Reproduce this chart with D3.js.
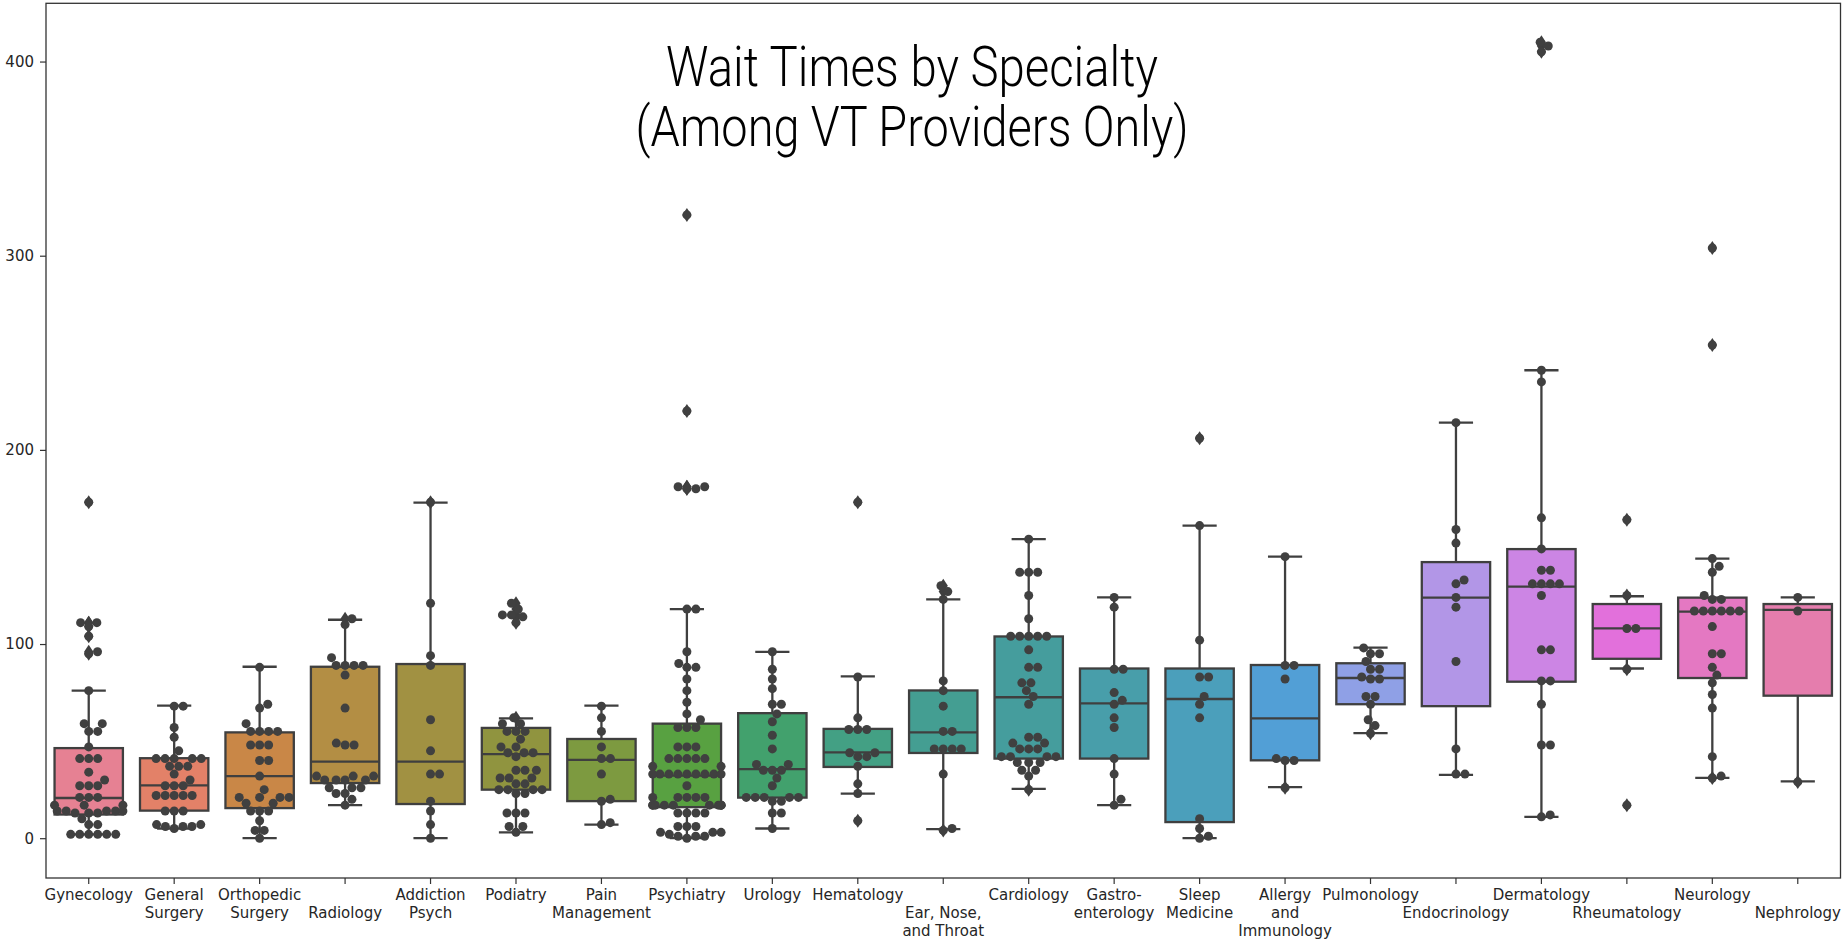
<!DOCTYPE html>
<html><head><meta charset="utf-8">
<script src="https://cdn.jsdelivr.net/npm/d3@7"></script>
<style>body{margin:0;background:#fff;overflow:hidden}</style>
</head><body><svg id="chart" width="1845" height="947"></svg>
<script>
// ---------------- DATA ----------------
const categories = ["Gynecology","General Surgery","Orthopedic Surgery","Radiology","Addiction Psych","Podiatry","Pain Management","Psychiatry","Urology","Hematology","Ear, Nose, and Throat","Cardiology","Gastroenterology","Sleep Medicine","Allergy and Immunology","Pulmonology","Endocrinology","Dermatology","Rheumatology","Neurology","Nephrology"];
const tickLabelLines = [["Gynecology"],["General","Surgery"],["Orthopedic","Surgery"],["","Radiology"],["Addiction","Psych"],["Podiatry"],["Pain","Management"],["Psychiatry"],["Urology"],["Hematology"],["","Ear, Nose,","and Throat"],["Cardiology"],["Gastro-","enterology"],["Sleep","Medicine"],["Allergy","and","Immunology"],["Pulmonology"],["","Endocrinology"],["Dermatology"],["","Rheumatology"],["Neurology"],["","Nephrology"]];
const yTicks = [0,100,200,300,400];
const titleLines = ["Wait Times by Specialty","(Among VT Providers Only)"];

// wait times (days) per specialty
const gynecology = [2,2,2,2,2,2,7,7,10,13,13,14,14,14,14,13,14,17,17,17,21,21,21,27,27,27,30,34,41,41,41,47,55,55,59,59,76,95,96,104,109,111,111,173];
const generalSurgery = [5,6,6,6,7,7,14,14,14,22,22,22,22,22,27,27,27,30,33,37,37,37,41,41,41,41,41,45,52,57,68,68];
const orthopedicSurgery = [0,4,4,9,14,14,14,18,18,21,21,21,21,25,32,40,40,48,48,48,55,55,55,55,59,67,69,88];
const radiology = [17,20,23,23,26,26,26,30,30,30,30,32,32,32,48,48,49,67,84,89,89,89,89,93,110,113];
const addictionPsych = [0,7,14,19,33,33,45,61,89,94,121,173];
const podiatry = [3,6,6,13,13,13,23,23,25,25,25,25,28,28,31,31,31,35,35,35,42,44,44,44,47,47,51,55,55,55,59,59,62,111,114,115,115,118,121];
const painManagement = [7,8,19,20,33,41,41,47,55,62,68];
const psychiatry = [0,1,1,1,2,3,3,3,6,6,6,13,13,13,13,17,17,17,17,17,17,17,17,17,17,21,21,21,21,21,27,33,33,33,33,33,33,33,33,33,37,37,41,41,41,41,41,47,47,47,57,57,57,61,64,70,76,82,88,88,90,96,118,118,180,180,181,181,220,321];
const urology = [5,13,13,19,19,21,21,21,21,21,27,31,35,35,35,38,38,46,53,60,64,69,69,77,82,87,96];
const hematology = [9,23,28,37,42,42,44,44,56,56,56,62,83,173];
const earNoseThroat = [4,5,33,46,46,46,46,55,55,68,76,81,123,127,130];
const cardiology = [25,32,35,35,39,39,39,42,42,42,42,46,46,46,49,49,52,52,69,73,76,80,80,88,88,97,104,104,104,104,104,113,125,137,137,137,154];
const gastroenterology = [17,20,33,41,57,62,69,71,75,87,87,119,124];
const sleepMedicine = [0,1,5,10,62,69,73,83,83,102,161,206];
const allergyImmunology = [26,40,40,41,82,89,89,145];
const pulmonology = [54,58,61,69,73,73,82,82,83,87,87,91,95,95,98];
const endocrinology = [33,33,46,91,119,124,131,133,152,159,214];
const dermatology = [11,12,48,48,69,81,81,97,97,125,131,131,131,131,138,138,149,165,235,241,405,408,410];
const rheumatology = [17,87,108,108,125,164];
const neurology = [31,32,42,67,74,80,84,88,95,95,109,117,117,117,117,117,117,123,123,125,137,140,144,254,304];
const nephrology = [29,117,124];

// box statistics
const q1s = [12.2,14.2,15.5,28.4,17.6,25,19.1,16,20.9,36.7,43.9,41,41,8.3,40.1,69,68,80.6,92.4,82.5,73.4];
const medians = [20.7,27.2,32,39.4,39.4,43.3,40.3,32.2,35.6,44.2,54.5,72.6,69.4,71.7,61.7,82.5,123.9,129.6,108.1,116.7,117.6];
const q3s = [46.4,41.2,54.5,88.3,89.7,56.8,51.1,59,64.4,56.3,76.1,103.9,87.4,87.4,89.2,90.1,142.2,148.9,120.6,123.9,120.6];
const whiskerLows = [2,5,0,17,0,3,7,0,5,23,4.7,25.4,17,0,26.3,54.1,32.6,11,87.4,31.1,29.3];
const whiskerHighs = [76,68.3,88.3,112.5,172.8,61.7,68.3,118,96,83.3,123,154,124,161,145,98.2,214,241,124.6,144,124];

const seriesValues = [gynecology,generalSurgery,orthopedicSurgery,radiology,addictionPsych,podiatry,painManagement,psychiatry,urology,hematology,earNoseThroat,cardiology,gastroenterology,sleepMedicine,allergyImmunology,pulmonology,endocrinology,dermatology,rheumatology,neurology,nephrology];

// ---------------- HUSL palette (seaborn husl_palette) ----------------
const M = [[3.240969941904521,-1.537383177570093,-0.498610760293],[-0.96924363628087,1.87596750150772,0.041555057407175],[0.055630079696993,-0.20397695888897,1.056971514242878]];
const refU = 0.19783000664283, refV = 0.46831999493879, kappa = 903.2962962, epsilon = 0.0088564516;
function bounds(L){const res=[];const s1=Math.pow(L+16,3)/1560896;const s2=s1>epsilon?s1:L/kappa;
  for(let c=0;c<3;c++){const [m1,m2,m3]=M[c];for(let t=0;t<2;t++){const top1=(284517*m1-94839*m3)*s2;const top2=(838422*m3+769860*m2+731718*m1)*L*s2-769860*t*L;const bot=(632260*m3-126452*m2)*s2+126452*t;res.push([top1/bot,top2/bot]);}}return res;}
function maxChroma(L,H){const hr=H/360*Math.PI*2;let mn=Infinity;for(const [sl,ic] of bounds(L)){const len=ic/(Math.sin(hr)-sl*Math.cos(hr));if(len>=0)mn=Math.min(mn,len);}return mn;}
function husl2rgb(H,S,L){const C=maxChroma(L,H)/100*S;const hr=H/360*Math.PI*2;const U=Math.cos(hr)*C,V=Math.sin(hr)*C;
  const vu=U/(13*L)+refU,vv=V/(13*L)+refV;const Y=L<=8?L/kappa:Math.pow((L+16)/116,3);const X=-(9*Y*vu)/((vu-4)*vv-vu*vv);const Z=(9*Y-15*vv*Y-vv*X)/(3*vv);
  return M.map(r=>{let c=r[0]*X+r[1]*Y+r[2]*Z;c=c<=0.0031308?12.92*c:1.055*Math.pow(c,1/2.4)-0.055;return Math.max(0,Math.min(1,c));});}
const nCat = categories.length;
const palette = d3.range(nCat).map(i=>{let h=(i/nCat+0.01)%1*359;const rgb=husl2rgb(h,0.9*99,0.65*99);
  const c=d3.hsl(d3.rgb(rgb[0]*255,rgb[1]*255,rgb[2]*255));c.s*=0.75;return c.formatHex();});
const minLight = d3.min(palette,c=>d3.hsl(c).l);
const lum = Math.round(minLight*0.6*255);
const gray = d3.rgb(lum,lum,lum).formatHex();

// ---------------- LAYOUT ----------------
const svg = d3.select("#chart");
const W=1845,H=947;
const plot={left:46,right:1840.5,top:3.3,bottom:878};
const x = d3.scaleBand().domain(categories).range([plot.left,plot.right]).padding(0);
const y = d3.scaleLinear().domain([-20.5,430]).range([plot.bottom,plot.top]);
const bw = x.bandwidth()*0.8;
const font = "DejaVu Sans, sans-serif";

svg.append("rect").attr("width",W).attr("height",H).attr("fill","#fff");

// boxes
const g = svg.append("g");
categories.forEach((cat,i)=>{
  const cx = x(cat)+x.bandwidth()/2;
  const gg = g.append("g");
  gg.append("line").attr("x1",cx).attr("x2",cx).attr("y1",y(q3s[i])).attr("y2",y(whiskerHighs[i])).attr("stroke",gray).attr("stroke-width",2.3);
  gg.append("line").attr("x1",cx).attr("x2",cx).attr("y1",y(q1s[i])).attr("y2",y(whiskerLows[i])).attr("stroke",gray).attr("stroke-width",2.3);
  [whiskerHighs[i],whiskerLows[i]].forEach(v=>gg.append("line").attr("x1",cx-bw/4).attr("x2",cx+bw/4).attr("y1",y(v)).attr("y2",y(v)).attr("stroke",gray).attr("stroke-width",2.3));
  gg.append("rect").attr("x",cx-bw/2).attr("width",bw).attr("y",y(q3s[i])).attr("height",y(q1s[i])-y(q3s[i]))
    .attr("fill",palette[i]).attr("stroke",gray).attr("stroke-width",2.3);
  gg.append("line").attr("x1",cx-bw/2).attr("x2",cx+bw/2).attr("y1",y(medians[i])).attr("y2",y(medians[i])).attr("stroke",gray).attr("stroke-width",2.3);
  seriesValues[i].filter(v=>v>whiskerHighs[i]+0.01||v<whiskerLows[i]-0.01).forEach(v=>{
    const py=y(v);
    gg.append("path").attr("d",`M${cx},${py-7}L${cx+4.6},${py}L${cx},${py+7}L${cx-4.6},${py}Z`).attr("fill",gray);
  });
});

// swarm
function swarm(vals,r){
  const pts=vals.map(v=>({v,py:y(v)})).sort((a,b)=>a.v-b.v);
  const placed=[];const d=2*r;
  pts.forEach(p=>{
    const cands=[0];
    placed.forEach(q=>{const dy=Math.abs(p.py-q.py);if(dy<d){const dx=Math.sqrt(d*d-dy*dy);cands.push(q.dx+dx,q.dx-dx);}});
    cands.sort((a,b)=>Math.abs(a)-Math.abs(b));
    for(const c of cands){
      if(placed.every(q=>Math.hypot(q.dx-c,q.py-p.py)>=d-1e-6)){p.dx=c;break;}
    }
    if(p.dx===undefined)p.dx=0;
    placed.push(p);
  });
  return placed;
}
const dotR=4.5;
categories.forEach((cat,i)=>{
  const cx=x(cat)+x.bandwidth()/2;
  const pts=swarm(seriesValues[i],dotR);
  svg.append("g").selectAll("circle").data(pts).join("circle")
    .attr("cx",p=>cx+Math.max(-bw/2,Math.min(bw/2,p.dx))).attr("cy",p=>p.py).attr("r",dotR).attr("fill","#404040");
});

// frame
svg.append("rect").attr("x",plot.left).attr("y",plot.top).attr("width",plot.right-plot.left).attr("height",plot.bottom-plot.top)
  .attr("fill","none").attr("stroke","#333").attr("stroke-width",1.3);

// y axis
const ya = svg.append("g").attr("transform",`translate(${plot.left},0)`)
  .call(d3.axisLeft(y).tickValues(yTicks).tickSize(6).tickPadding(6).tickFormat(d3.format("d")));
ya.select(".domain").remove();
ya.selectAll("line").attr("stroke","#333").attr("stroke-width",1.2);
ya.selectAll("text").attr("font-family",font).attr("font-size",15).attr("fill","#262626");

// x axis
const xa = svg.append("g").attr("transform",`translate(0,${plot.bottom})`)
  .call(d3.axisBottom(x).tickSize(6).tickPadding(5));
xa.select(".domain").remove();
xa.selectAll("line").attr("stroke","#333").attr("stroke-width",1.2);
xa.selectAll("text").attr("font-family",font).attr("font-size",15).attr("fill","#262626")
  .each(function(d,i){
    const t=d3.select(this);t.text(null);
    tickLabelLines[i].forEach((ln,k)=>{t.append("tspan").attr("x",0).attr("dy",k===0?"0.71em":"1.2em").text(ln===""?"\u00a0":ln);});
  });

// title (one text element, two lines)
const tx=912;
const title = svg.append("text").attr("text-anchor","middle")
  .attr("font-family","Roboto, 'Liberation Sans', sans-serif").attr("font-weight",300).attr("font-size",55).attr("fill","#000");
titleLines.forEach((ln,k)=>{
  title.append("tspan").attr("x",tx).attr("y",[86,146][k])
    .attr("textLength",[492,553][k]).attr("lengthAdjust","spacingAndGlyphs").text(ln);
});
</script></body></html>
